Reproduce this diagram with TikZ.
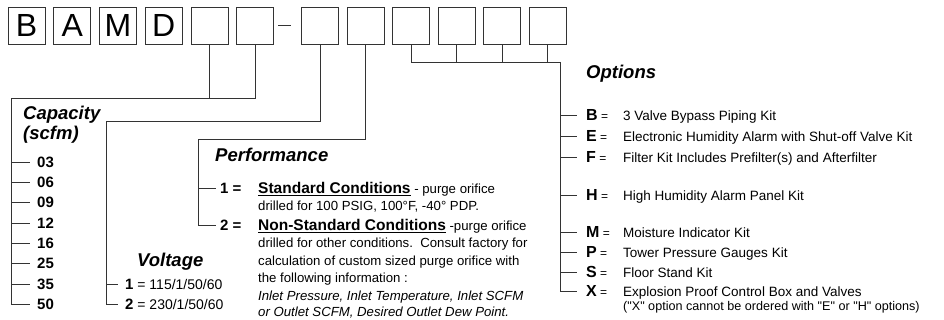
\documentclass[tikz,border=0pt]{standalone}
\usepackage{fontspec}
\setmainfont{Liberation Sans}[Ligatures=TeXOff]
\usetikzlibrary{positioning}

\begin{document}
\begin{tikzpicture}[x=1pt, y=-1pt,
  cell/.style={draw=black!80, line width=0.7pt, minimum size=37pt, inner sep=0pt, font=\fontsize{32}{32}\selectfont},
  wire/.style={draw=black!80, line width=0.8pt},
  tick/.style={wire, shorten >=7pt},
  head/.style={anchor=base west, inner sep=0pt, font=\fontsize{18.5}{20}\selectfont\bfseries\itshape},
  num/.style={anchor=base west, inner sep=0pt, font=\fontsize{15}{15}\selectfont\bfseries},
  body/.style={anchor=base west, inner sep=0pt, font=\fontsize{13.2}{13.2}\selectfont},
  key/.style={anchor=base west, inner sep=0pt, font=\fontsize{16}{16}\selectfont\bfseries},
  desc/.style={anchor=base west, inner sep=0pt, font=\fontsize{13.5}{13.5}\selectfont}
]
  \useasboundingbox (0,0) rectangle (944,320);

  % model code boxes
  \node[cell] (bB) at (26.5,25.5) {B};
  \node[cell] (bA) at (72.3,25.5) {A};
  \node[cell] (bM) at (118,25.5) {M};
  \node[cell] (bD) at (163.8,25.5) {D};
  \node[cell] (cap1) at (209.5,25.5) {};
  \node[cell] (cap2) at (255.3,25.5) {};
  \node[cell] (volt) at (320,25.5) {};
  \node[cell] (perf) at (365.5,25.5) {};
  \node[cell] (opt1) at (411,25.5) {};
  \node[cell] (opt2) at (456.5,25.5) {};
  \node[cell] (opt3) at (502,25.5) {};
  \node[cell] (opt4) at (547.5,25.5) {};
  \draw[wire, shorten <=4pt, shorten >=10.5pt] (cap2.east) -- (volt.west);

  \coordinate (capbus) at (11,98);
  \coordinate (voltbus) at (106,121);
  \coordinate (perfbus) at (198,139);
  \coordinate (optbus) at (560,62);

  % capacity
  \node[head] (capt1) at (23,120) {Capacity};
  \node[head] (capt2) at (23,140) {(scfm)};
  \node[num] (c03) at (37,167.4) {03};
  \node[num] (c06) at (37,187.7) {06};
  \node[num] (c09) at (37,208) {09};
  \node[num] (c12) at (37,228.3) {12};
  \node[num] (c16) at (37,248.6) {16};
  \node[num] (c25) at (37,268.9) {25};
  \node[num] (c35) at (37,289.2) {35};
  \node[num] (c50) at (37,309.5) {50};

  % voltage
  \node[head] (vt) at (137,266) {Voltage};
  \node[num] (v1) at (125,289.2) {1\fontsize{14}{14}\selectfont\mdseries\ = 115/1/50/60};
  \node[num] (v2) at (125,309.5) {2\fontsize{14}{14}\selectfont\mdseries\ = 230/1/50/60};

  % performance
  \node[head] (pt) at (215,161.5) {Performance};
  \node[num] (p1) at (220,193.6) {1 =};
  \node[num] (p2) at (220,230.6) {2 =};
  \node[body] (pl1) at (258,193.6) {{\fontsize{15.5}{15.5}\selectfont\bfseries\underline{Standard Conditions}} - purge orifice};
  \node[body] (pl2) at (258,210.7) {drilled for 100 PSIG, 100°F, -40° PDP.};
  \node[body] (pl3) at (258,230.6) {{\fontsize{15.5}{15.5}\selectfont\bfseries\underline{Non-Standard Conditions}} -purge orifice};
  \node[body] (pl4) at (258,247.7) {drilled for other conditions.\ \ Consult factory for};
  \node[body] (pl5) at (258,265.2) {calculation of custom sized purge orifice with};
  \node[body] (pl6) at (258,282.7) {the following information :};
  \node[body, font=\fontsize{13.2}{13.2}\selectfont\itshape] (pl7) at (258,300.2) {Inlet Pressure, Inlet Temperature, Inlet SCFM};
  \node[body, font=\fontsize{13.2}{13.2}\selectfont\itshape] (pl8) at (258,316.5) {or Outlet SCFM, Desired Outlet Dew Point.};

  % options
  \node[head] (ot) at (586,79) {Options};
  \node[key] (oB) at (586,120.5) {B\fontsize{12}{12}\selectfont\mdseries\ =};
  \node[key] (oE) at (586,141.5) {E\fontsize{12}{12}\selectfont\mdseries\ =};
  \node[key] (oF) at (586,162.5) {F\fontsize{12}{12}\selectfont\mdseries\ =};
  \node[key] (oH) at (586,200.5) {H\fontsize{12}{12}\selectfont\mdseries\ =};
  \node[key] (oM) at (586,237.5) {M\fontsize{12}{12}\selectfont\mdseries\ =};
  \node[key] (oP) at (586,257.5) {P\fontsize{12}{12}\selectfont\mdseries\ =};
  \node[key] (oS) at (586,277.5) {S\fontsize{12}{12}\selectfont\mdseries\ =};
  \node[key] (oX) at (586,296.5) {X\fontsize{12}{12}\selectfont\mdseries\ =};
  \node[desc] (dB) at (623,120.5) {3 Valve Bypass Piping Kit};
  \node[desc] (dE) at (623,141.5) {Electronic Humidity Alarm with Shut-off Valve Kit};
  \node[desc] (dF) at (623,162.5) {Filter Kit Includes Prefilter(s) and Afterfilter};
  \node[desc] (dH) at (623,200.5) {High Humidity Alarm Panel Kit};
  \node[desc] (dM) at (623,237.5) {Moisture Indicator Kit};
  \node[desc] (dP) at (623,257.5) {Tower Pressure Gauges Kit};
  \node[desc] (dS) at (623,277.5) {Floor Stand Kit};
  \node[desc] (dX) at (623,296.5) {Explosion Proof Control Box and Valves};
  \node[desc, font=\fontsize{12.6}{12.6}\selectfont] (dX2) at (623,310.3) {("X" option cannot be ordered with "E" or "H" options)};

  % connectors
  \draw[wire] (cap1.south) -- (cap1.south |- capbus);
  \draw[tick] (cap2.south) |- (capbus) |- (c50.west);
  \draw[tick] (capbus |- c03.west) -- (c03.west);
  \draw[tick] (capbus |- c06.west) -- (c06.west);
  \draw[tick] (capbus |- c09.west) -- (c09.west);
  \draw[tick] (capbus |- c12.west) -- (c12.west);
  \draw[tick] (capbus |- c16.west) -- (c16.west);
  \draw[tick] (capbus |- c25.west) -- (c25.west);
  \draw[tick] (capbus |- c35.west) -- (c35.west);

  \draw[tick] (volt.south) |- (voltbus) |- (v2.west);
  \draw[tick] (voltbus |- v1.west) -- (v1.west);

  \draw[wire, shorten >=4pt] (perf.south) |- (perfbus) |- (p2.west);
  \draw[wire, shorten >=4pt] (perfbus |- p1.west) -- (p1.west);

  \draw[wire] (opt1.south) |- (optbus);
  \draw[wire] (opt2.south) -- (opt2.south |- optbus);
  \draw[wire] (opt3.south) -- (opt3.south |- optbus);
  \draw[wire] (opt4.south) -- (opt4.south |- optbus);
  \draw[wire, shorten >=9pt] (optbus) |- (oX.west);
  \draw[wire, shorten >=9pt] (optbus |- oB.west) -- (oB.west);
  \draw[wire, shorten >=9pt] (optbus |- oE.west) -- (oE.west);
  \draw[wire, shorten >=9pt] (optbus |- oF.west) -- (oF.west);
  \draw[wire, shorten >=9pt] (optbus |- oH.west) -- (oH.west);
  \draw[wire, shorten >=9pt] (optbus |- oM.west) -- (oM.west);
  \draw[wire, shorten >=9pt] (optbus |- oP.west) -- (oP.west);
  \draw[wire, shorten >=9pt] (optbus |- oS.west) -- (oS.west);
\end{tikzpicture}
\end{document}
